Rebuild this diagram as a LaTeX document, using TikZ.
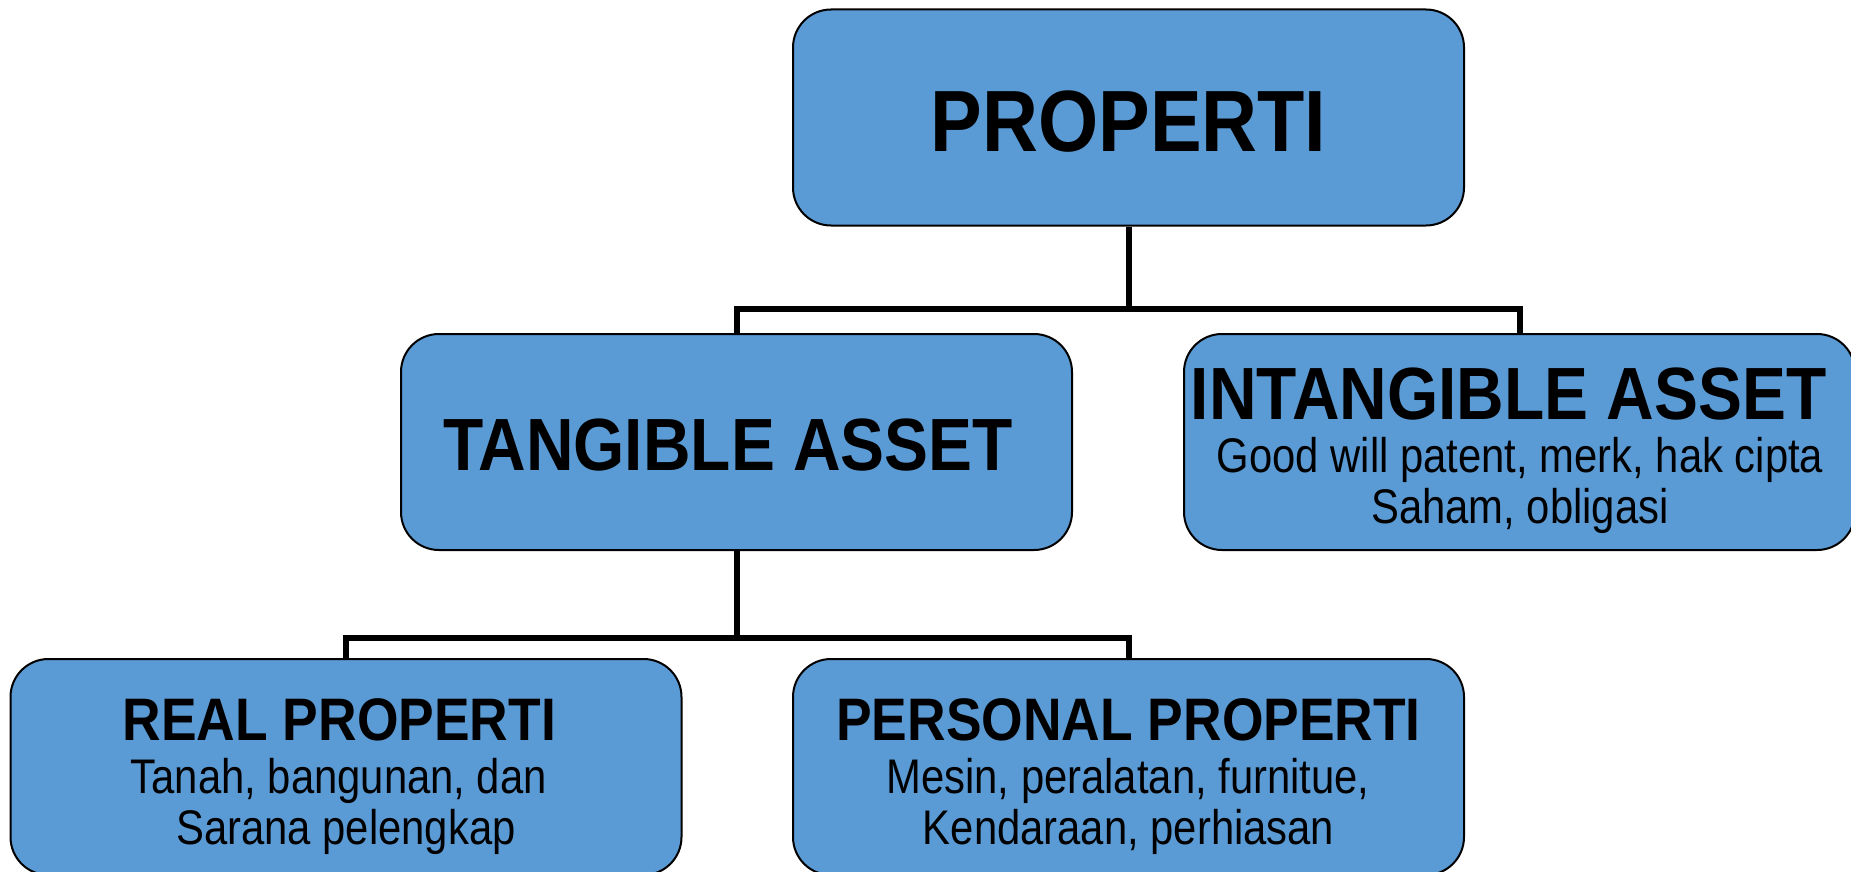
\documentclass[tikz,border=0pt]{standalone}
\usepackage{fontspec}
\setmainfont{Liberation Sans}[FakeStretch=0.89]
\newfontfamily\bodyfont{Liberation Sans}[FakeStretch=0.86]
\definecolor{boxblue}{HTML}{5B9BD5}
\tikzset{
  box/.style={draw=black, line width=1pt, fill=boxblue, rounded corners=19pt,
    minimum width=335.5pt, minimum height=108pt, inner sep=0pt},
  conn/.style={draw=black, line width=3pt},
  txt/.style={anchor=base, inner sep=0pt, text=black},
  big/.style={font=\fontsize{43.5pt}{50pt}\selectfont\bfseries},
  mid/.style={font=\fontsize{37pt}{44pt}\selectfont\bfseries},
  sub/.style={font=\fontsize{30pt}{36pt}\selectfont\bfseries},
  body/.style={font=\bodyfont\fontsize{24.3pt}{28pt}\selectfont},
}
\begin{document}
\begin{tikzpicture}[x=0.5pt,y=-0.5pt]
\useasboundingbox (0,0) rectangle (1851,872);
\clip (0,0) rectangle (1851,872);
\coordinate (j1) at (1128.5,309);
\coordinate (j2) at (736.5,637.5);
% boxes
\node[box] (prop) at (1128.5,117.5) {};
\node[box] (tang) at (736.5,442) {};
\node[box] (intang) at (1519.5,442) {};
\node[box] (real) at (346,767) {};
\node[box] (pers) at (1128.5,767) {};
% connectors
\draw[conn] (prop.south) -- (j1);
\draw[conn] (tang.north) |- (j1) -| (intang.north);
\draw[conn] (tang.south) -- (j2);
\draw[conn] (real.north) |- (j2) -| (pers.north);
% texts
\node[txt,big] (tprop) at (1128.5,151) {PROPERTI};
\node[txt,mid] (ttang) at (728,470) {TANGIBLE ASSET};
\node[txt,mid] (tintang) at (1508.6,419) {INTANGIBLE ASSET};
\node[txt,body] (tintang1) at (1520,472) {Good will patent, merk, hak cipta};
\node[txt,body] (tintang2) at (1520,523) {Saham, obligasi};
\node[txt,sub] (treal) at (339.4,740) {REAL PROPERTI};
\node[txt,body] (treal1) at (338.8,793) {Tanah, bangunan, dan};
\node[txt,body] (treal2) at (346,844) {Sarana pelengkap};
\node[txt,sub] (tpers) at (1128.6,740) {PERSONAL PROPERTI};
\node[txt,body] (tpers1) at (1128,793) {Mesin, peralatan, furnitue,};
\node[txt,body] (tpers2) at (1128.6,844) {Kendaraan, perhiasan};
\end{tikzpicture}
\end{document}
